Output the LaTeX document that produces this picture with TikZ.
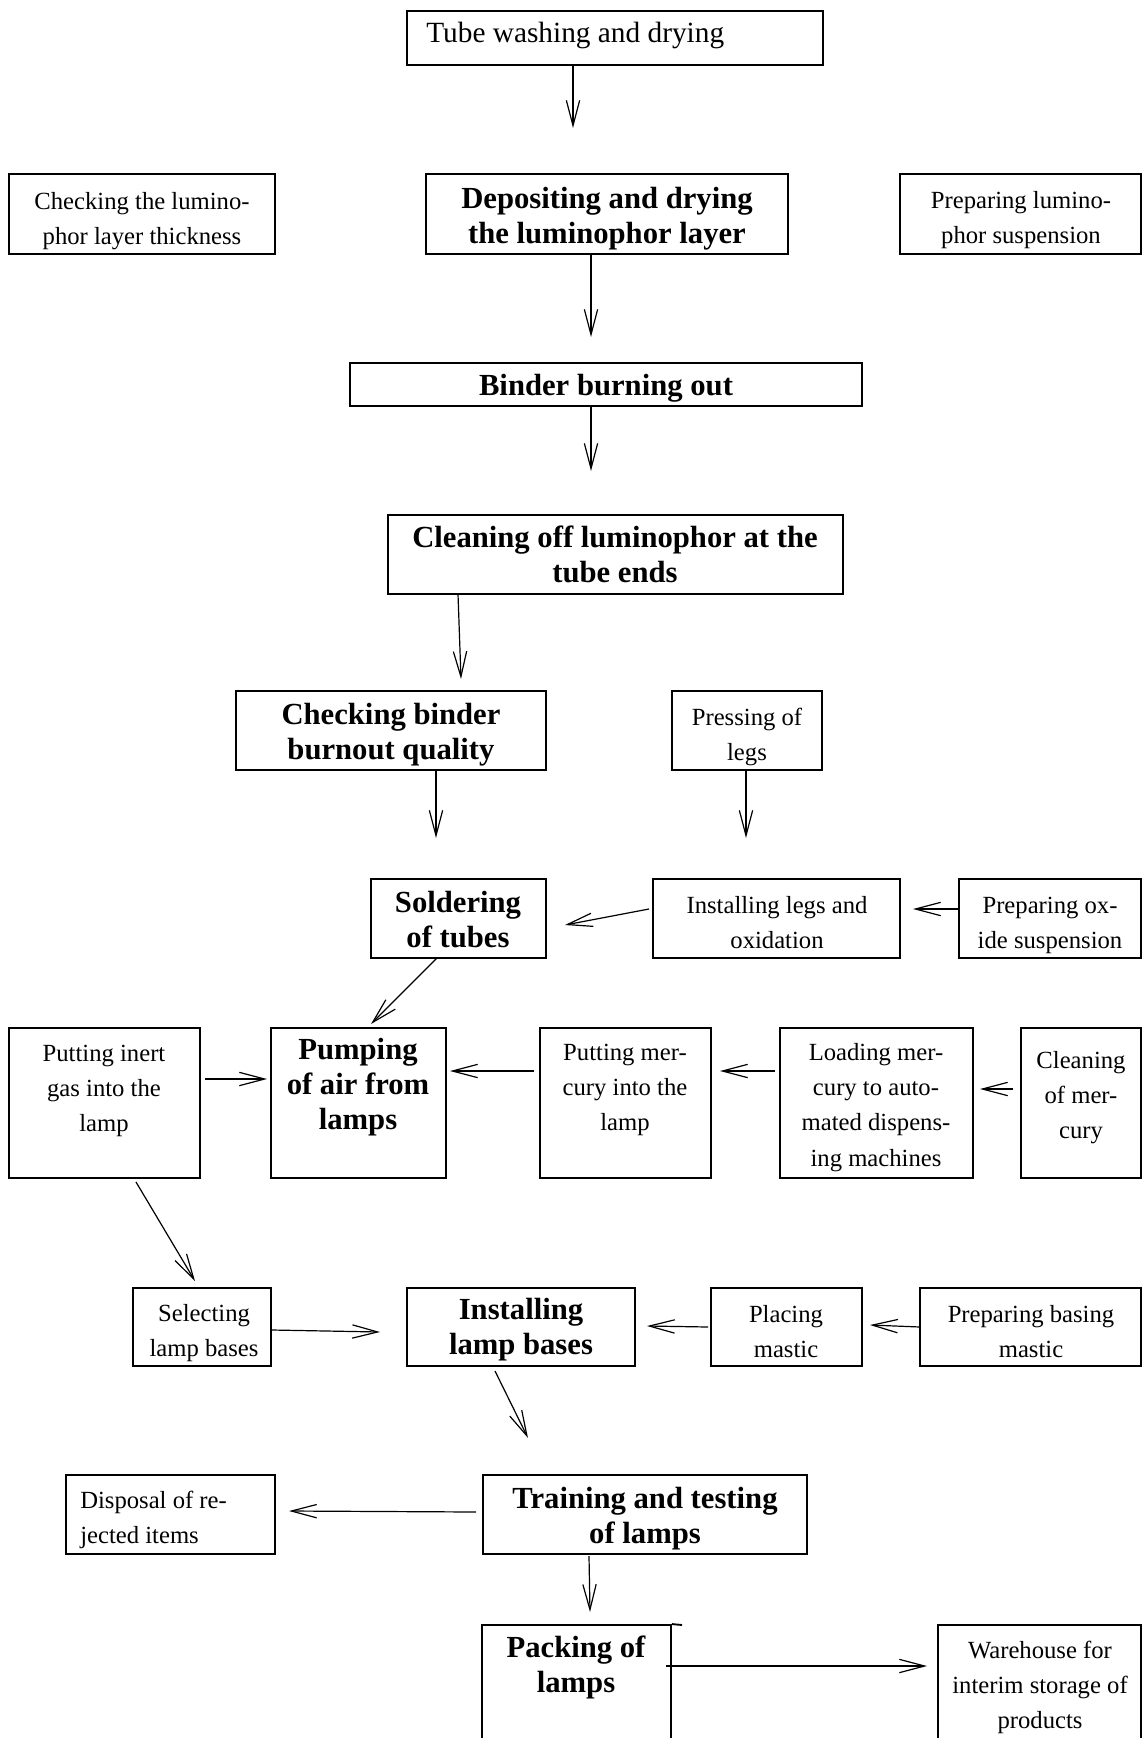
\documentclass[tikz,border=0pt]{standalone}
\usepackage{fontspec}
\setmainfont{Liberation Serif}
\usetikzlibrary{arrows.meta,fit}
\tikzset{
  box/.style={draw, line width=1.4pt, inner sep=0pt, rectangle},
  txt/.style={inner sep=0pt, align=center, anchor=north},
  nf/.style={txt, font=\fontsize{18.5}{26.5}\selectfont},
  bfs/.style={txt, font=\fontsize{23}{26.5}\selectfont\bfseries},
  arr/.style={line width=0.9pt, -{Straight Barb[length=19pt,width=10pt]}},
}
\begin{document}
\begin{tikzpicture}[x=0.75pt,y=-0.75pt]
\useasboundingbox (0,0) rectangle (1143,1738);
\clip (0,0) rectangle (1143,1738);
% boxes
\node[box, fit={(407,11) (823,65)}] (tube) {};
\node[box, fit={(9,174) (275,254)}] (chk1) {};
\node[box, fit={(426,174) (788,254)}] (dep) {};
\node[box, fit={(900,174) (1141,254)}] (prep1) {};
\node[box, fit={(350,363) (862,406)}] (binder) {};
\node[box, fit={(388,515) (843,594)}] (clean) {};
\node[box, fit={(236,691) (546,770)}] (chkb) {};
\node[box, fit={(672,691) (822,770)}] (press) {};
\node[box, fit={(371,879) (546,958)}] (solder) {};
\node[box, fit={(653,879) (900,958)}] (inslegs) {};
\node[box, fit={(959,879) (1141,958)}] (prepox) {};
\node[box, fit={(9,1028) (200,1178)}] (inert) {};
\node[box, fit={(271,1028) (446,1178)}] (pump) {};
\node[box, fit={(540,1028) (711,1178)}] (putmerc) {};
\node[box, fit={(780,1028) (973,1178)}] (load) {};
\node[box, fit={(1021,1028) (1141,1178)}] (cleanmerc) {};
\node[box, fit={(133,1288) (271,1366)}] (select) {};
\node[box, fit={(407,1288) (635,1366)}] (instbase) {};
\node[box, fit={(711,1288) (862,1366)}] (placing) {};
\node[box, fit={(920,1288) (1141,1366)}] (prepbase) {};
\node[box, fit={(66,1475) (275,1554)}] (disposal) {};
\node[box, fit={(483,1475) (807,1554)}] (train) {};
\node[box, fit={(482,1625) (671,1770)}] (pack) {};
\node[box, fit={(938,1625) (1141,1770)}] (ware) {};
\coordinate (packext) at (682,1625);
\draw[line width=1.4pt] (pack.north east) -- (packext);
% texts
\node[txt, anchor=north west, font=\fontsize{22}{26.5}\selectfont] (t-tube) at (426,17) {\strut Tube washing and drying\strut};
\node[nf] (t-chk1) at (142,184) {\strut Checking the lumino-\\phor layer thickness\strut};
\node[bfs] (t-dep) at (607,183) {\strut Depositing and drying\\the luminophor layer\strut};
\node[nf] (t-prep1) at (1021,183) {\strut Preparing lumino-\\phor suspension\strut};
\node[bfs] (t-binder) at (606,370) {\strut Binder burning out\strut};
\node[bfs] (t-clean) at (615,522) {\strut Cleaning off luminophor at the\\tube ends\strut};
\node[bfs] (t-chkb) at (391,699) {\strut Checking binder\\burnout quality\strut};
\node[nf] (t-press) at (747,700) {\strut Pressing of\\legs\strut};
\node[bfs] (t-solder) at (458,887) {\strut Soldering\\of tubes\strut};
\node[nf] (t-inslegs) at (777,888) {\strut Installing legs and\\oxidation\strut};
\node[nf] (t-prepox) at (1050,888) {\strut Preparing ox-\\ide suspension\strut};
\node[nf] (t-inert) at (104,1036) {\strut Putting inert\\gas into the\\lamp\strut};
\node[bfs] (t-pump) at (358,1034) {\strut Pumping\\of air from\\lamps\strut};
\node[nf] (t-putmerc) at (625,1035) {\strut Putting mer-\\cury into the\\lamp\strut};
\node[nf] (t-load) at (876,1035) {\strut Loading mer-\\cury to auto-\\mated dispens-\\ing machines\strut};
\node[nf] (t-cleanmerc) at (1081,1043) {\strut Cleaning\\of mer-\\cury\strut};
\node[nf] (t-select) at (204,1296) {\strut Selecting\\lamp bases\strut};
\node[bfs] (t-instbase) at (521,1294) {\strut Installing\\lamp bases\strut};
\node[nf] (t-placing) at (786,1297) {\strut Placing\\mastic\strut};
\node[nf] (t-prepbase) at (1031,1297) {\strut Preparing basing\\mastic\strut};
\node[nf, anchor=north west, align=left] (t-disposal) at (80,1483) {\strut Disposal of re-\\jected items\strut};
\node[bfs] (t-train) at (645,1483) {\strut Training and testing\\of lamps\strut};
\node[bfs] (t-pack) at (576,1632) {\strut Packing of\\lamps\strut};
\node[nf] (t-ware) at (1040,1633) {\strut Warehouse for\\interim storage of\\products\strut};
% arrow end points
\coordinate (a1s) at (573,65);   \coordinate (a1e) at (573,128);
\coordinate (a2s) at (591,254);  \coordinate (a2e) at (591,337);
\coordinate (a3s) at (591,406);  \coordinate (a3e) at (591,471);
\coordinate (a4s) at (458,594);  \coordinate (a4e) at (461,679);
\coordinate (a5s) at (436,770);  \coordinate (a5e) at (436,838);
\coordinate (a6s) at (746,770);  \coordinate (a6e) at (746,838);
\coordinate (a7s) at (649,909);  \coordinate (a7e) at (565,925);
\coordinate (a8s) at (958,909);  \coordinate (a8e) at (913,909);
\coordinate (a9s) at (437,958);  \coordinate (a9e) at (371,1024);
\coordinate (a10s) at (205,1079); \coordinate (a10e) at (267,1079);
\coordinate (a11s) at (534,1071); \coordinate (a11e) at (450,1071);
\coordinate (a12s) at (775,1071); \coordinate (a12e) at (720,1071);
\coordinate (a13s) at (1013,1089); \coordinate (a13e) at (980,1089);
\coordinate (a14s) at (136,1182); \coordinate (a14e) at (195,1281);
\coordinate (a15s) at (272,1330); \coordinate (a15e) at (380,1332);
\coordinate (a16s) at (708,1327); \coordinate (a16e) at (647,1326);
\coordinate (a17s) at (920,1327); \coordinate (a17e) at (870,1325);
\coordinate (a18s) at (495,1371); \coordinate (a18e) at (528,1438);
\coordinate (a19s) at (476,1512); \coordinate (a19e) at (289,1511);
\coordinate (a20s) at (589,1556); \coordinate (a20e) at (590,1612);
\coordinate (a21s) at (666,1666); \coordinate (a21e) at (927,1666);
\foreach \i in {1,...,21} { \draw[arr] (a\i s) -- (a\i e); }
\end{tikzpicture}
\end{document}
